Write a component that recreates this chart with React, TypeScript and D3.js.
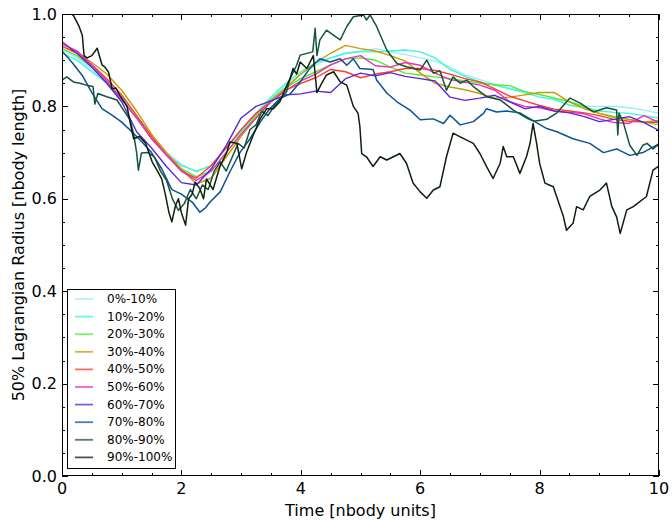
import React from "react";
import * as d3 from "d3";

const W = 672;
const H = 524;
const PL = 62, PR = 659, PT = 14, PB = 476;

const labels = ["0%-10%", "10%-20%", "20%-30%", "30%-40%", "40%-50%", "50%-60%", "60%-70%", "70%-80%", "80%-90%", "90%-100%"];
const colors = ["#99ecff", "#3cf7d2", "#4cf02a", "#c99a00", "#ff3b2b", "#ef2cbd", "#5a26dc", "#0a5396", "#15553a", "#0c200c"];

const tGrid = [0, 0.25, 0.5, 0.75, 1, 1.25, 1.5, 1.75, 2, 2.25, 2.5, 2.75, 3, 3.25, 3.5, 3.75, 4, 4.25, 4.5, 4.75, 5, 5.25, 5.5, 5.75, 6, 6.25, 6.5, 6.75, 7, 7.25, 7.5, 7.75, 8, 8.25, 8.5, 8.75, 9, 9.25, 9.5, 9.75, 10];

const r0 = [0.925, 0.905, 0.88, 0.85, 0.815, 0.775, 0.735, 0.7, 0.675, 0.658, 0.672, 0.71, 0.745, 0.785, 0.815, 0.845, 0.87, 0.89, 0.905, 0.915, 0.92, 0.925, 0.918, 0.912, 0.905, 0.898, 0.885, 0.868, 0.858, 0.847, 0.84, 0.832, 0.825, 0.818, 0.81, 0.8, 0.8, 0.8, 0.797, 0.792, 0.785];
const r1 = [0.915, 0.9, 0.875, 0.85, 0.82, 0.78, 0.735, 0.695, 0.672, 0.66, 0.672, 0.71, 0.745, 0.785, 0.82, 0.85, 0.875, 0.895, 0.905, 0.915, 0.918, 0.918, 0.92, 0.922, 0.918, 0.905, 0.88, 0.865, 0.853, 0.846, 0.838, 0.83, 0.82, 0.815, 0.803, 0.797, 0.79, 0.787, 0.785, 0.78, 0.775];
const r2 = [0.925, 0.91, 0.885, 0.855, 0.815, 0.775, 0.73, 0.695, 0.665, 0.648, 0.66, 0.7, 0.74, 0.78, 0.815, 0.84, 0.86, 0.875, 0.89, 0.903, 0.905, 0.9, 0.885, 0.872, 0.868, 0.864, 0.86, 0.855, 0.85, 0.847, 0.845, 0.832, 0.826, 0.818, 0.81, 0.8, 0.785, 0.776, 0.772, 0.766, 0.76];
const r3 = [0.93, 0.918, 0.895, 0.87, 0.835, 0.79, 0.74, 0.7, 0.665, 0.632, 0.645, 0.69, 0.735, 0.775, 0.81, 0.84, 0.87, 0.895, 0.915, 0.932, 0.925, 0.92, 0.91, 0.898, 0.872, 0.85, 0.842, 0.836, 0.828, 0.818, 0.82, 0.825, 0.83, 0.83, 0.81, 0.795, 0.785, 0.778, 0.772, 0.766, 0.77];
const r4 = [0.93, 0.915, 0.89, 0.86, 0.825, 0.78, 0.735, 0.695, 0.66, 0.645, 0.672, 0.71, 0.75, 0.785, 0.81, 0.835, 0.85, 0.862, 0.88, 0.875, 0.862, 0.87, 0.875, 0.882, 0.882, 0.878, 0.87, 0.86, 0.853, 0.838, 0.822, 0.812, 0.802, 0.794, 0.79, 0.786, 0.78, 0.772, 0.768, 0.766, 0.765];
const r5 = [0.935, 0.92, 0.89, 0.855, 0.815, 0.775, 0.73, 0.695, 0.66, 0.64, 0.66, 0.7, 0.74, 0.775, 0.81, 0.835, 0.855, 0.87, 0.89, 0.903, 0.91, 0.888, 0.885, 0.895, 0.889, 0.872, 0.858, 0.852, 0.846, 0.835, 0.81, 0.8, 0.797, 0.79, 0.787, 0.784, 0.773, 0.765, 0.763, 0.78, 0.765];
const r6 = [0.94, 0.915, 0.885, 0.85, 0.81, 0.745, 0.71, 0.67, 0.635, 0.63, 0.665, 0.715, 0.775, 0.8, 0.812, 0.825, 0.827, 0.833, 0.83, 0.86, 0.872, 0.866, 0.873, 0.865, 0.86, 0.855, 0.82, 0.813, 0.818, 0.824, 0.81, 0.795, 0.8, 0.79, 0.786, 0.778, 0.767, 0.772, 0.778, 0.765, 0.748];

const r7: [number, number][] = [
  [0, 0.92], [0.17, 0.895], [0.34, 0.867], [0.5, 0.83], [0.67, 0.795], [0.85, 0.78], [1.0, 0.766], [1.17, 0.745], [1.34, 0.723],
  [1.5, 0.7], [1.67, 0.665], [1.84, 0.62], [2.0, 0.61], [2.18, 0.593], [2.31, 0.571], [2.4, 0.58], [2.48, 0.593], [2.65, 0.615],
  [2.81, 0.658], [2.98, 0.7], [3.15, 0.73], [3.32, 0.766], [3.48, 0.795], [3.65, 0.817], [3.82, 0.827], [3.99, 0.853], [4.15, 0.882],
  [4.32, 0.903], [4.49, 0.896], [4.66, 0.903], [4.77, 0.889], [4.88, 0.903], [4.99, 0.882], [5.21, 0.88], [5.27, 0.857], [5.44, 0.829],
  [5.61, 0.81], [5.83, 0.792], [6.0, 0.771], [6.22, 0.773], [6.39, 0.763], [6.5, 0.781], [6.67, 0.76], [6.89, 0.767], [7.06, 0.785],
  [7.11, 0.795], [7.28, 0.788], [7.45, 0.79], [7.67, 0.786], [7.84, 0.773], [8.12, 0.752], [8.29, 0.745], [8.56, 0.73], [8.84, 0.72],
  [9.07, 0.7], [9.29, 0.708], [9.51, 0.694], [9.73, 0.7], [9.96, 0.716], [10, 0.714]
];

const r8: [number, number][] = [
  [0, 0.857], [0.08, 0.864], [0.19, 0.853], [0.3, 0.85], [0.41, 0.846], [0.52, 0.843], [0.55, 0.805], [0.6, 0.828], [0.75, 0.821],
  [0.92, 0.814], [1.03, 0.792], [1.14, 0.771], [1.2, 0.74], [1.25, 0.7], [1.28, 0.662], [1.33, 0.699], [1.45, 0.7], [1.55, 0.69],
  [1.65, 0.66], [1.75, 0.64], [1.85, 0.6], [1.95, 0.575], [2.05, 0.59], [2.15, 0.62], [2.25, 0.6], [2.35, 0.63], [2.45, 0.62],
  [2.55, 0.66], [2.65, 0.68], [2.75, 0.66], [2.85, 0.69], [2.95, 0.72], [3.05, 0.71], [3.15, 0.75], [3.25, 0.76], [3.35, 0.79],
  [3.45, 0.78], [3.55, 0.8], [3.65, 0.815], [3.76, 0.831], [3.82, 0.86], [3.93, 0.889], [3.99, 0.911], [4.2, 0.918], [4.24, 0.969],
  [4.27, 0.91], [4.32, 0.944], [4.43, 0.965], [4.54, 0.955], [4.66, 0.944], [4.77, 0.973], [4.88, 0.994], [5.05, 0.998], [5.1, 0.987],
  [5.16, 0.998], [5.27, 0.973], [5.44, 0.922], [5.61, 0.893], [5.77, 0.886], [6.0, 0.879], [6.11, 0.9], [6.22, 0.872], [6.33, 0.877],
  [6.44, 0.835], [6.55, 0.864], [6.67, 0.85], [6.78, 0.857], [6.89, 0.843], [7.11, 0.821], [7.34, 0.814], [7.56, 0.792], [7.78, 0.775],
  [7.9, 0.768], [8.12, 0.772], [8.29, 0.786], [8.51, 0.818], [8.68, 0.807], [8.9, 0.788], [9.12, 0.797], [9.29, 0.792], [9.31, 0.738],
  [9.33, 0.785], [9.4, 0.766], [9.51, 0.716], [9.63, 0.694], [9.73, 0.716], [9.8, 0.72], [9.9, 0.708], [10, 0.72]
];

const r9: [number, number][] = [
  [0, 1.02], [0.1, 1.01], [0.2, 0.995], [0.28, 0.975], [0.34, 0.954], [0.37, 0.91], [0.42, 0.905], [0.5, 0.91], [0.59, 0.926],
  [0.67, 0.89], [0.72, 0.885], [0.78, 0.874], [0.84, 0.838], [0.9, 0.84], [0.97, 0.824], [1.09, 0.8], [1.14, 0.766], [1.2, 0.73],
  [1.3, 0.735], [1.4, 0.72], [1.51, 0.68], [1.6, 0.66], [1.67, 0.643], [1.73, 0.61], [1.79, 0.571], [1.84, 0.55], [1.9, 0.585],
  [1.95, 0.6], [2.0, 0.57], [2.07, 0.543], [2.12, 0.6], [2.18, 0.61], [2.23, 0.636], [2.31, 0.622], [2.37, 0.6], [2.42, 0.643],
  [2.53, 0.62], [2.65, 0.672], [2.76, 0.7], [2.81, 0.723], [2.93, 0.72], [3.01, 0.665], [3.09, 0.7], [3.2, 0.737], [3.32, 0.773],
  [3.43, 0.795], [3.54, 0.795], [3.65, 0.81], [3.74, 0.838], [3.82, 0.86], [3.87, 0.882], [3.93, 0.87], [3.99, 0.896], [4.1, 0.882],
  [4.21, 0.91], [4.27, 0.83], [4.35, 0.85], [4.43, 0.868], [4.55, 0.875], [4.66, 0.853], [4.77, 0.846], [4.88, 0.8], [4.96, 0.785],
  [4.99, 0.756], [5.02, 0.698], [5.1, 0.691], [5.21, 0.67], [5.33, 0.691], [5.44, 0.684], [5.55, 0.691], [5.66, 0.698], [5.77, 0.677],
  [5.88, 0.634], [6.0, 0.615], [6.11, 0.601], [6.22, 0.619], [6.33, 0.626], [6.44, 0.691], [6.55, 0.742], [6.67, 0.734], [6.78, 0.727],
  [6.89, 0.72], [7.0, 0.698], [7.11, 0.67], [7.22, 0.644], [7.34, 0.677], [7.39, 0.713], [7.45, 0.691], [7.56, 0.691], [7.67, 0.655],
  [7.78, 0.691], [7.84, 0.72], [7.89, 0.763], [7.95, 0.72], [8.0, 0.677], [8.09, 0.634], [8.23, 0.626], [8.4, 0.561], [8.45, 0.532],
  [8.56, 0.547], [8.62, 0.583], [8.73, 0.576], [8.84, 0.605], [9.01, 0.619], [9.12, 0.634], [9.21, 0.583], [9.29, 0.561], [9.35, 0.525],
  [9.46, 0.576], [9.57, 0.583], [9.79, 0.605], [9.9, 0.662], [9.99, 0.67]
];

const xMajor = [0, 2, 4, 6, 8, 10];
const yMajor = [0, 0.2, 0.4, 0.6, 0.8, 1.0];
const yTickLabels = ["0.0", "0.2", "0.4", "0.6", "0.8", "1.0"];

export default function App() {
  const x = d3.scaleLinear().domain([0, 10]).range([PL, PR]);
  const y = d3.scaleLinear().domain([0, 1]).range([PB, PT]);
  const line = d3.line<[number, number]>().x((d) => x(d[0])).y((d) => y(d[1]));

  const gridSeries = [r0, r1, r2, r3, r4, r5, r6].map((vals) => vals.map((v, i) => [tGrid[i], v] as [number, number]));
  const series = [...gridSeries, r7, r8, r9];

  const xMinor = d3.range(0, 10.001, 0.5);
  const yMinor = d3.range(0, 1.0001, 0.05);
  const font = "DejaVu Sans, sans-serif";

  return (
    <svg width={W} height={H} style={{ position: "absolute", left: 0, top: 0, background: "#fff" }} fontFamily={font}>
      <defs>
        <clipPath id="plotclip">
          <rect x={PL} y={PT} width={PR - PL} height={PB - PT} />
        </clipPath>
      </defs>
      <rect x={0} y={0} width={W} height={H} fill="#fff" />
      <g clipPath="url(#plotclip)">
        {series.map((s, i) => (
          <path key={i} d={line(s) || ""} fill="none" stroke={colors[i]} strokeWidth={i >= 7 ? 1.5 : 1.4} strokeLinejoin="round" />
        ))}
      </g>
      <rect x={PL + 0.5} y={PT + 0.5} width={PR - PL - 1} height={PB - PT - 1} fill="none" stroke="#000" strokeWidth={1} />
      {xMinor.map((t, i) => {
        const major = xMajor.some((m) => Math.abs(m - t) < 1e-6);
        const len = major ? 6 : 3;
        const px = Math.round(x(t)) + 0.5;
        return (
          <g key={"xt" + i}>
            <line x1={px} x2={px} y1={PB} y2={PB - len} stroke="#000" />
            <line x1={px} x2={px} y1={PT} y2={PT + len} stroke="#000" />
          </g>
        );
      })}
      {yMinor.map((v, i) => {
        const major = yMajor.some((m) => Math.abs(m - v) < 1e-6);
        const len = major ? 6 : 3;
        const py = Math.round(y(v)) + 0.5;
        return (
          <g key={"yt" + i}>
            <line x1={PL} x2={PL + len} y1={py} y2={py} stroke="#000" />
            <line x1={PR} x2={PR - len} y1={py} y2={py} stroke="#000" />
          </g>
        );
      })}
      {xMajor.map((t) => (
        <text key={"xl" + t} x={x(t)} y={494} fontSize={16} textAnchor="middle">{String(t)}</text>
      ))}
      {yMajor.map((v, i) => (
        <text key={"yl" + i} x={57} y={y(v)} fontSize={16} textAnchor="end" dominantBaseline="central">{yTickLabels[i]}</text>
      ))}
      <text x={(PL + PR) / 2} y={516} fontSize={16} textAnchor="middle">Time [nbody units]</text>
      <text transform={`translate(24,${(PT + PB) / 2}) rotate(-90)`} fontSize={16} textAnchor="middle">50% Lagrangian Radius [nbody length]</text>
      <g>
        <rect x={67.5} y={289.5} width={108} height={179} fill="#fff" stroke="#000" strokeWidth={1} />
        {labels.map((lab, i) => {
          const ly = 299 + i * 17.6;
          return (
            <g key={lab}>
              <line x1={75} x2={93} y1={ly} y2={ly} stroke={colors[i]} strokeWidth={1.8} strokeOpacity={0.75} />
              <text x={107} y={ly} fontSize={12} dominantBaseline="central">{lab}</text>
            </g>
          );
        })}
      </g>
    </svg>
  );
}
